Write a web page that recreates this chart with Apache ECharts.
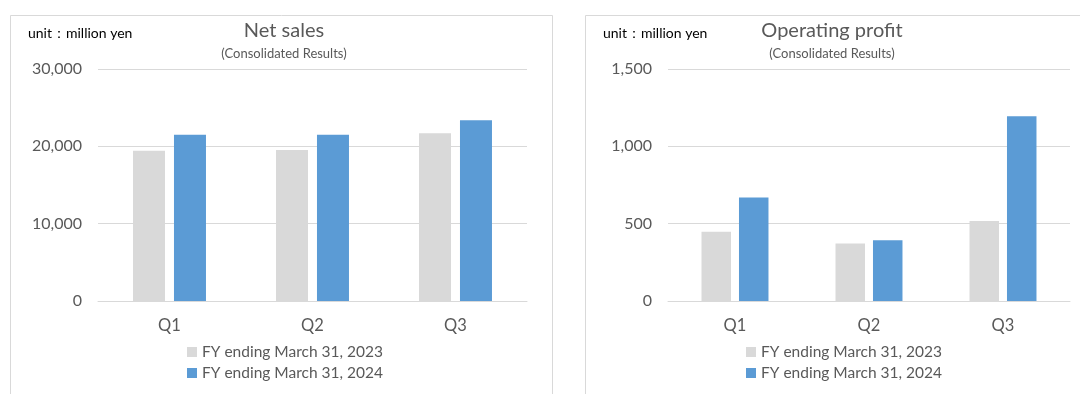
<!DOCTYPE html>
<html>
<head>
<meta charset="utf-8">
<title>Net sales / Operating profit</title>
<script src="https://cdn.jsdelivr.net/npm/echarts@6/dist/echarts.min.js"></script>
<style>
  html, body { margin: 0; padding: 0; background: #fff; }
  #chart { width: 1080px; height: 394px; }
</style>
</head>
<body>
<div id="chart"></div>
<script>
  // data
  var categories = ['Q1', 'Q2', 'Q3'];
  var seriesNames = ['FY ending March 31, 2023', 'FY ending March 31, 2024'];
  var salesFY2023 = [19440, 19530, 21690];
  var salesFY2024 = [21510, 21510, 23370];
  var profitFY2023 = [447, 372, 518];
  var profitFY2024 = [669, 392, 1194];
  var salesTicks = { min: 0, max: 30000, interval: 10000 };
  var profitTicks = { min: 0, max: 1500, interval: 500 };

  var FONT = 'Lato, "Noto Sans", sans-serif';
  var GRAY = '#d9d9d9';
  var BLUE = '#5b9bd5';
  var TEXT = '#595959';

  function fmt(v) {
    return Number(v).toLocaleString('en-US');
  }

  function yAxisOf(ticks, idx) {
    return {
      type: 'value',
      gridIndex: idx,
      min: ticks.min,
      max: ticks.max,
      interval: ticks.interval,
      axisLine: { show: false },
      axisTick: { show: false },
      axisLabel: { color: TEXT, fontSize: 16, fontFamily: FONT, margin: 16, formatter: fmt },
      splitLine: { lineStyle: { color: GRAY, width: 1 } }
    };
  }

  function xAxisOf(idx) {
    return {
      type: 'category',
      gridIndex: idx,
      data: categories,
      axisLine: { lineStyle: { color: GRAY, width: 1 } },
      axisTick: { show: false },
      axisLabel: { color: TEXT, fontSize: 16.5, fontFamily: FONT, margin: 16 }
    };
  }

  function legendAt(left) {
    return {
      data: seriesNames,
      orient: 'vertical',
      left: left,
      top: 344,
      padding: 0,
      itemWidth: 10,
      itemHeight: 10,
      itemGap: 5,
      icon: 'rect',
      selectedMode: false,
      textStyle: { color: TEXT, fontSize: 15.5, fontFamily: FONT, lineHeight: 16 }
    };
  }

  var myChart = echarts.init(document.getElementById('chart'));
  var option = {
    backgroundColor: '#fff',
    animation: false,
    title: [
      {
        text: 'Net sales', subtext: '(Consolidated Results)',
        left: 284, top: 21, textAlign: 'center', padding: 0, itemGap: 6,
        textStyle: { color: TEXT, fontSize: 20, fontWeight: 'normal', fontFamily: FONT },
        subtextStyle: { color: TEXT, fontSize: 13, fontFamily: FONT }
      },
      {
        text: 'unit：million yen', left: 28, top: 26, padding: 0,
        textStyle: { color: '#000', fontSize: 14, fontWeight: 'normal', fontFamily: FONT }
      },
      {
        text: 'Operating profit', subtext: '(Consolidated Results)',
        left: 832, top: 21, textAlign: 'center', padding: 0, itemGap: 6,
        textStyle: { color: TEXT, fontSize: 20, fontWeight: 'normal', fontFamily: FONT },
        subtextStyle: { color: TEXT, fontSize: 13, fontFamily: FONT }
      },
      {
        text: 'unit：million yen', left: 603, top: 26, padding: 0,
        textStyle: { color: '#000', fontSize: 14, fontWeight: 'normal', fontFamily: FONT }
      }
    ],
    legend: [legendAt(187), legendAt(746)],
    graphic: [
      { type: 'rect', z: -10, shape: { x: 10.5, y: 15.5, width: 542, height: 400 },
        style: { fill: 'none', stroke: GRAY, lineWidth: 1 } },
      { type: 'rect', z: -10, shape: { x: 585.5, y: 15.5, width: 520, height: 400 },
        style: { fill: 'none', stroke: GRAY, lineWidth: 1 } }
    ],
    grid: [
      { left: 98, right: 553, top: 69, bottom: 93 },
      { left: 668, right: 10, top: 69, bottom: 93 }
    ],
    xAxis: [xAxisOf(0), xAxisOf(1)],
    yAxis: [yAxisOf(salesTicks, 0), yAxisOf(profitTicks, 1)],
    series: [
      {
        name: seriesNames[0], type: 'bar', xAxisIndex: 0, yAxisIndex: 0,
        barWidth: 32, barGap: '28%', itemStyle: { color: GRAY }, data: salesFY2023
      },
      {
        name: seriesNames[1], type: 'bar', xAxisIndex: 0, yAxisIndex: 0,
        barWidth: 32, barGap: '28%', itemStyle: { color: BLUE }, data: salesFY2024
      },
      {
        name: seriesNames[0], type: 'bar', xAxisIndex: 1, yAxisIndex: 1,
        barWidth: 29.5, barGap: '27%', itemStyle: { color: GRAY }, data: profitFY2023
      },
      {
        name: seriesNames[1], type: 'bar', xAxisIndex: 1, yAxisIndex: 1,
        barWidth: 29.5, barGap: '27%', itemStyle: { color: BLUE }, data: profitFY2024
      }
    ]
  };
  myChart.setOption(option);
</script>
</body>
</html>
